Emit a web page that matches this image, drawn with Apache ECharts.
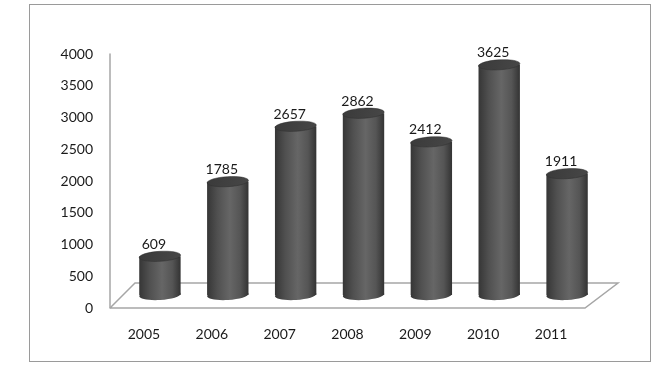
<!DOCTYPE html>
<html>
<head>
<meta charset="utf-8">
<script src="https://cdn.jsdelivr.net/npm/echarts@6/dist/echarts.min.js"></script>
<style>
html,body{margin:0;padding:0;background:#fff;}
#frame{position:absolute;left:29px;top:4px;width:622px;height:358px;border:1.5px solid #9a9a9a;box-sizing:border-box;}
#chart{position:absolute;left:0;top:0;width:667px;height:373px;}
</style>
</head>
<body>
<div id="frame"></div>
<div id="chart"></div>
<script>
const categories = ['2005','2006','2007','2008','2009','2010','2011'];
const values = [609, 1785, 2657, 2862, 2412, 3625, 1911];
const yTicks = [0, 500, 1000, 1500, 2000, 2500, 3000, 3500, 4000];

const FONT = 'Lato';
const FS = 14;
const DEPTH_L = 25, DEPTH_R = 33, DEPTH_Y = 25;
const BAR_DX = 16, BAR_DY = 13;

const chart = echarts.init(document.getElementById('chart'), null, {renderer: 'canvas'});

function floorRender(params, api) {
  const band = api.size([1, 0])[0];
  const a = api.coord([0, 0]);
  const b = api.coord([categories.length - 1, 0]);
  const x0 = a[0] - band / 2, x1 = b[0] + band / 2, y = a[1];
  return {
    type: 'polyline',
    shape: {points: [[x0, y], [x1, y], [x1 + DEPTH_R, y - DEPTH_Y], [x0 + DEPTH_L, y - DEPTH_Y], [x0, y]]},
    style: {stroke: '#a6a6a6', lineWidth: 1.5, fill: null},
    silent: true
  };
}

function cylRender(params, api) {
  const i = api.value(0), v = api.value(1);
  const base = api.coord([i, 0]);
  const top = api.coord([i, v]);
  const band = api.size([1, 0])[0];
  const w = band * 0.61;
  const cx = base[0] + BAR_DX;
  const yb = base[1] - BAR_DY;
  const yt = top[1] - BAR_DY;
  const rx = w / 2, ry = 5;
  const grad = new echarts.graphic.LinearGradient(0, 0, 1, 0, [
    {offset: 0, color: '#363636'},
    {offset: 0.25, color: '#505050'},
    {offset: 0.55, color: '#666666'},
    {offset: 0.8, color: '#555555'},
    {offset: 1, color: '#333333'}
  ]);
  const topGrad = new echarts.graphic.LinearGradient(0, 0, 1, 1, [
    {offset: 0, color: '#3a3a3a'},
    {offset: 1, color: '#474747'}
  ]);
  return {
    type: 'group',
    children: [
      {type: 'ellipse', shape: {cx: cx, cy: yb, rx: rx, ry: ry}, rotation: 0.06, originX: cx, originY: yb, style: {fill: grad}},
      {type: 'rect', shape: {x: cx - rx, y: yt, width: w, height: yb - yt}, style: {fill: grad}},
      {type: 'ellipse', shape: {cx: cx, cy: yt, rx: rx, ry: ry}, rotation: 0.06, originX: cx, originY: yt, style: {fill: topGrad, stroke: '#303030', lineWidth: 0.5}},
      {type: 'text', x: cx - 6, y: yt - 12, style: {text: String(v), fill: '#1a1a1a', font: FS + 'px ' + FONT, align: 'center', verticalAlign: 'middle'}}
    ]
  };
}

chart.setOption({
  animation: false,
  grid: {left: 110, right: 82, top: 54, bottom: 65},
  xAxis: {
    type: 'category',
    data: categories,
    axisLine: {show: false},
    axisTick: {show: false},
    axisLabel: {color: '#1a1a1a', fontFamily: FONT, fontSize: FS, margin: 19}
  },
  yAxis: {
    type: 'value',
    min: yTicks[0],
    max: yTicks[yTicks.length - 1],
    interval: yTicks[1] - yTicks[0],
    axisLine: {show: true, lineStyle: {color: '#a6a6a6', width: 1.5}},
    axisTick: {show: false},
    splitLine: {show: false},
    axisLabel: {color: '#1a1a1a', fontFamily: FONT, fontSize: FS, margin: 17, formatter: v => String(v)}
  },
  series: [
    {type: 'custom', renderItem: floorRender, data: [[0, 0]], silent: true, z: 1},
    {type: 'custom', renderItem: cylRender, data: values.map((v, i) => [i, v]), z: 2, clip: false}
  ]
});
</script>
</body>
</html>
